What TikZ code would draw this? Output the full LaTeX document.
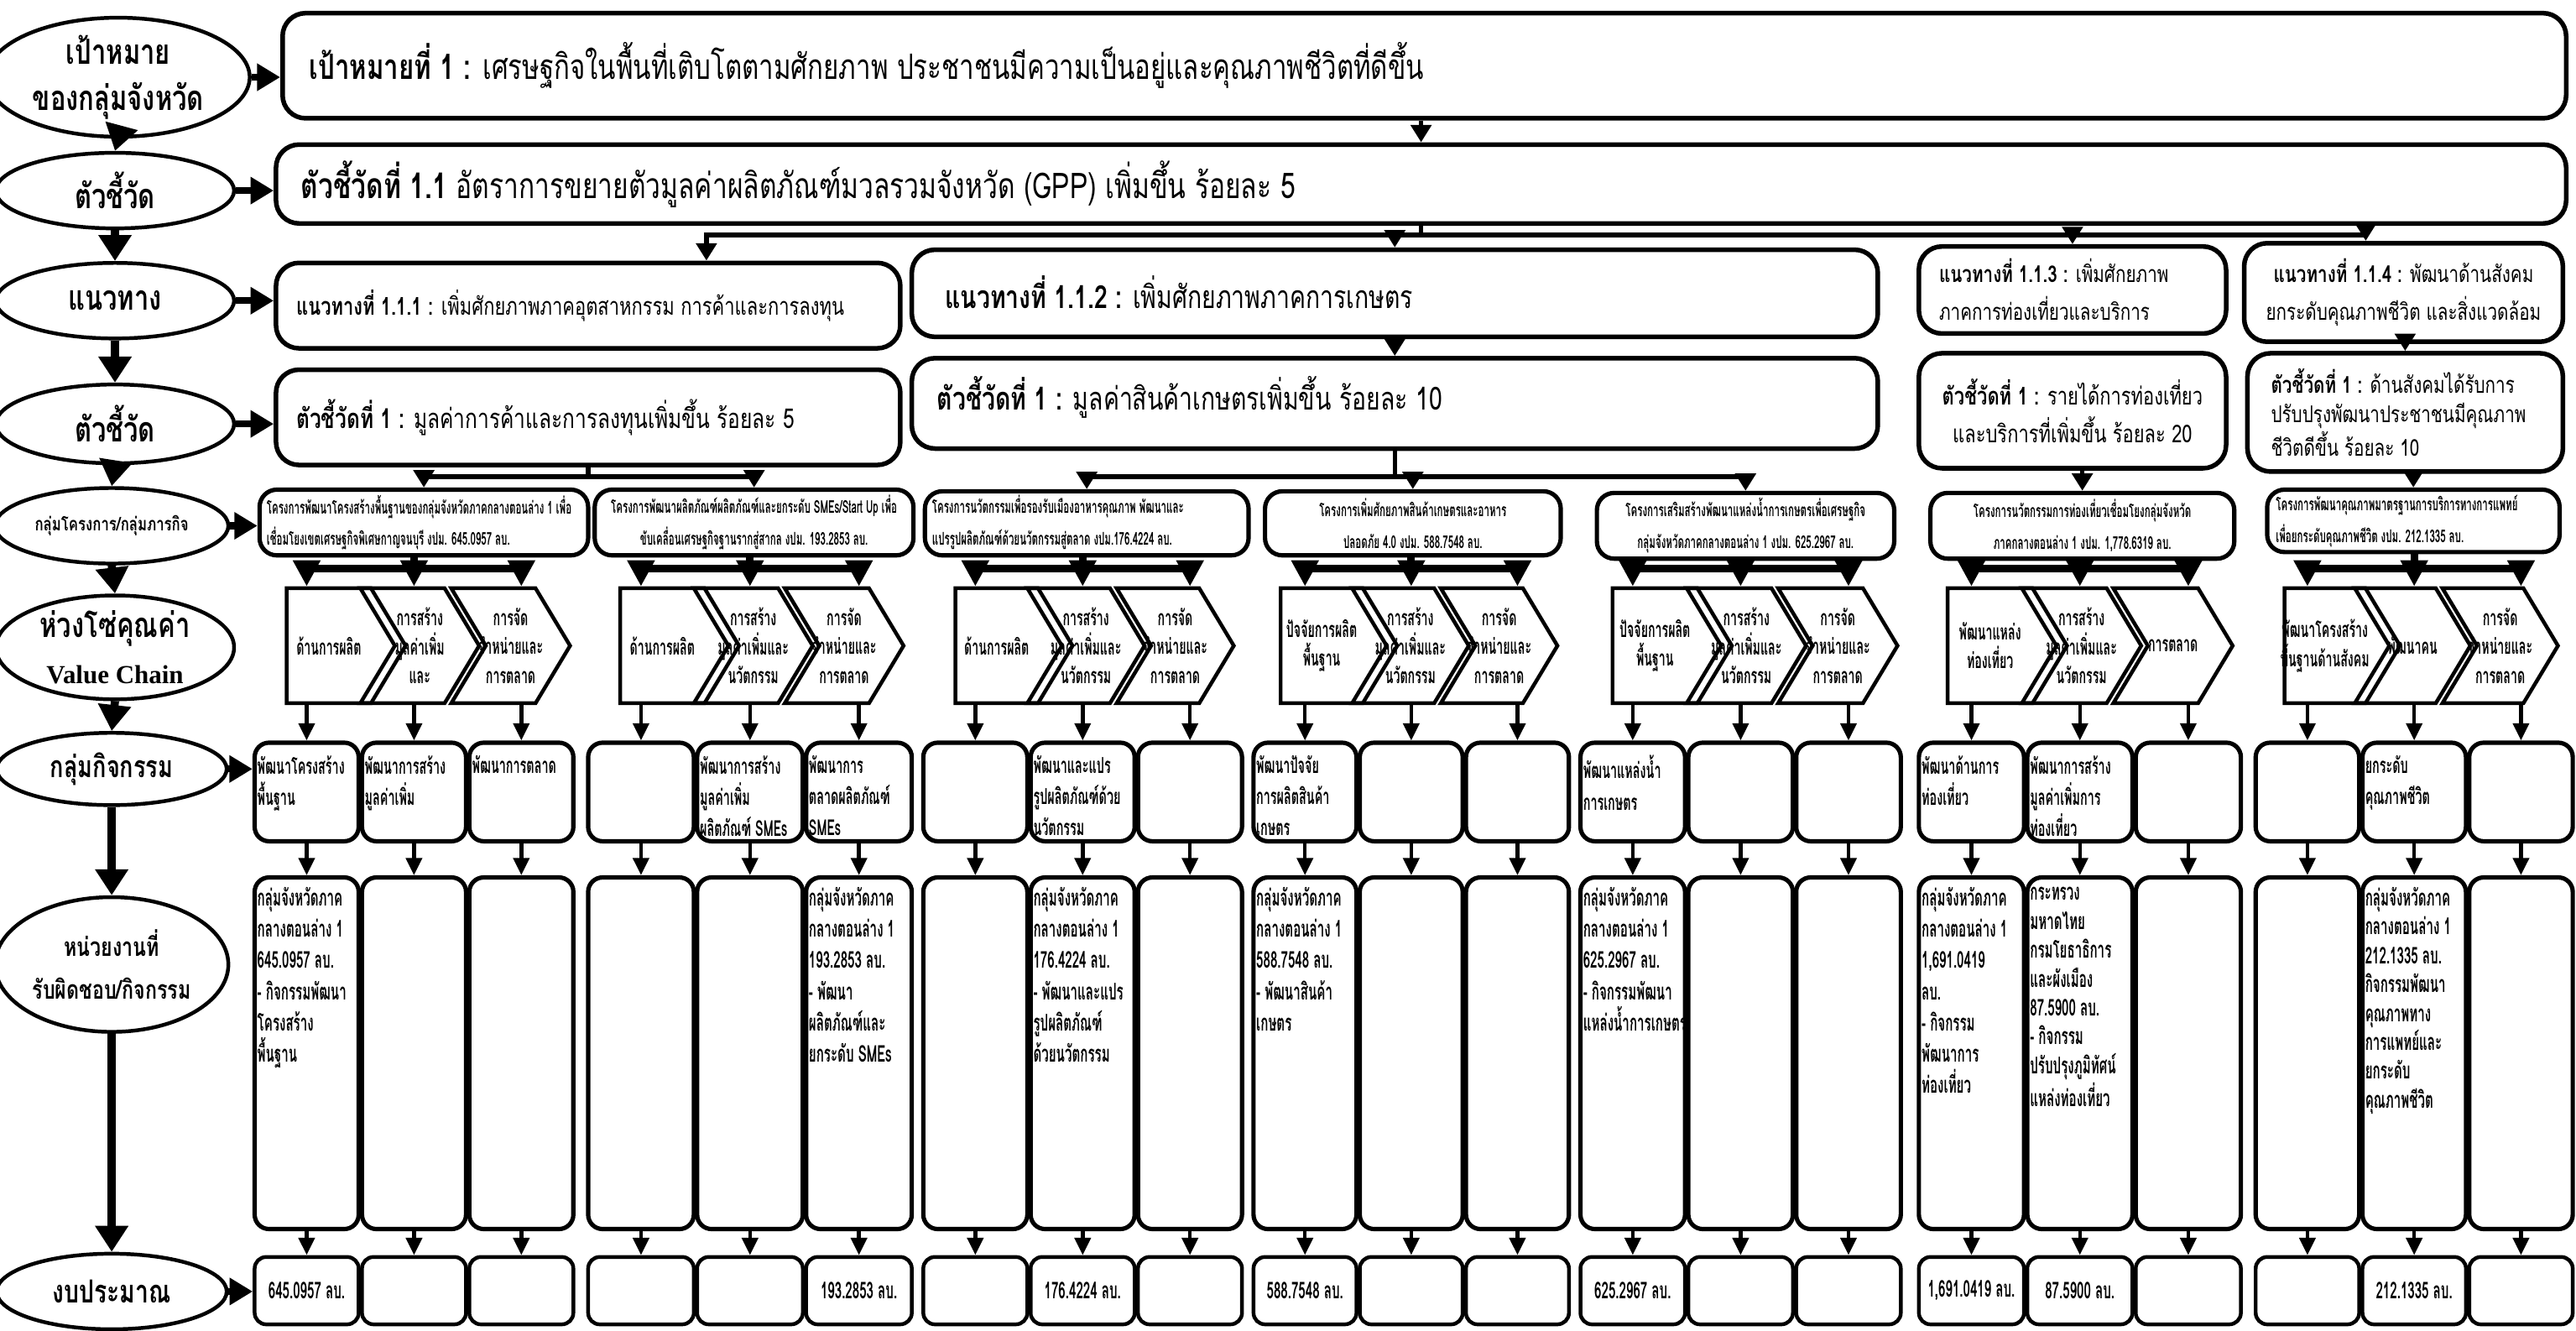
\documentclass[tikz,border=0pt]{standalone}
\usepackage{fontspec}
\setmainfont{Loma}[Script=Thai]
\newfontfamily\thc{Loma}[Script=Thai,FakeStretch=0.75]
\newfontfamily\thx{Loma}[Script=Thai,FakeStretch=0.55]
\newfontfamily\lserif{Liberation Serif}
\usetikzlibrary{shapes.geometric,shapes.symbols,arrows.meta}
\newcommand\fsz[2]{\fontsize{#1}{#2}\selectfont}
\newcommand\bx[6]{\node[#6, minimum width={(#4-#2)*0.02cm}, minimum height={(#5-#3)*0.02cm}] (#1) at ({(#2+#4)/2},{(#3+#5)/2}) {};}
\tikzset{
  bigbox/.style={draw, line width=1.6pt, rounded corners=8pt, inner sep=0pt},
  projbox/.style={draw, line width=1.5pt, rounded corners=6pt, inner sep=0pt},
  ell/.style={ellipse, draw, line width=1.3pt, inner sep=0pt, align=center, font=\thc\bfseries\fsz{12}{16}},
  harr/.style={line width=2.4pt, -{Triangle[width=9pt,length=8pt]}},
  varr/.style={line width=2.8pt, -{Triangle[width=11pt,length=9pt]}},
  midarr/.style={line width=1.6pt, -{Triangle[width=7pt,length=6pt]}},
  midline/.style={line width=1.6pt, line cap=rect},
  forkline/.style={line width=2.6pt, line cap=rect},
  forkarr/.style={line width=2.6pt, -{Triangle[width=9pt,length=9pt]}},
  thinarr/.style={line width=1.3pt, -{Triangle[width=5.5pt,length=6pt]}},
  chevf/.style={signal, draw, line width=1.3pt, signal to=east, signal pointer angle=118, inner sep=0pt},
  chevn/.style={chevf, signal from=west},
  actbox/.style={draw, line width=1.5pt, rounded corners=5pt, inner sep=0pt},
  budbox/.style={draw, line width=1.3pt, rounded corners=4pt, inner sep=0pt},
  ptxt/.style={font=\thx\bfseries\fsz{6.1}{11}, inner sep=0pt},
  ctxt/.style={font=\thx\bfseries\fsz{7.5}{10}, align=center, inner sep=0pt},
  atxt/.style={font=\thx\bfseries\fsz{7.6}{10.8}, align=left, anchor=north west, inner sep=0pt},
  utxt/.style={font=\thx\bfseries\fsz{8}{10.8}, align=left, anchor=north west, inner sep=0pt},
  btxt/.style={font=\thx\bfseries\fsz{8}{10}, inner sep=0pt},
}
\begin{document}
\begin{tikzpicture}[x=0.02cm,y=-0.02cm]
\fill[white] (0,0) rectangle (1568,810);
\useasboundingbox (0,0) rectangle (1568,810);

% ---------- left column ellipses ----------
\node[ell, minimum width=160*0.02cm, minimum height=68*0.02cm] (e1) at (72,47) {เป้าหมาย\\ของกลุ่มจังหวัด};
\node[ell, minimum width=145*0.02cm, minimum height=46*0.02cm] (e2) at (70,116) {ตัวชี้วัด};
\node[ell, minimum width=145*0.02cm, minimum height=46*0.02cm] (e3) at (70,183) {แนวทาง};
\node[ell, minimum width=145*0.02cm, minimum height=48*0.02cm] (e4) at (70,258) {ตัวชี้วัด};
\node[ell, minimum width=142*0.02cm, minimum height=46*0.02cm, font=\thc\bfseries\fsz{6.5}{8}] (e5) at (68,320) {กลุ่มโครงการ/กลุ่มภารกิจ};
\node[ell, minimum width=145*0.02cm, minimum height=60*0.02cm] (e6) at (70,394) {ห่วงโซ่คุณค่า\\{\lserif\bfseries\fsz{9}{12}Value Chain}};
\node[ell, minimum width=140*0.02cm, minimum height=44*0.02cm, font=\thc\bfseries\fsz{10.5}{14}] (e7) at (68,468) {กลุ่มกิจกรรม};
\node[ell, minimum width=142*0.02cm, minimum height=82*0.02cm, font=\thc\bfseries\fsz{9}{15}] (e8) at (68,587) {หน่วยงานที่\\รับผิดชอบ/กิจกรรม};
\node[ell, minimum width=140*0.02cm, minimum height=46*0.02cm, font=\thc\bfseries\fsz{11}{14}] (e9) at (68,786) {งบประมาณ};

\draw[varr] (e1.south) -- (e2.north);
\draw[varr] (e2.south) -- (e3.north);
\draw[varr] (e3.south) -- (e4.north);
\draw[varr] (e4.south) -- (e5.north);
\draw[varr] (e5.south) -- (e6.north);
\draw[varr] (e6.south) -- (e7.north);
\draw[varr] (e7.south) -- (e8.north);
\draw[varr] (e8.south) -- (e9.north);

% ---------- top boxes ----------
\bx{goal}{172}{8}{1562}{72}{bigbox}
\bx{ind11}{168}{88}{1562}{136}{bigbox}
\bx{n111}{168}{160}{548}{212}{bigbox}
\bx{n112}{555}{152}{1143}{205}{bigbox}
\bx{n113}{1168}{150}{1355}{203}{bigbox}
\bx{n114}{1366}{148}{1560}{208}{bigbox}
\bx{i1}{168}{225}{548}{283}{bigbox}
\bx{i2}{555}{218}{1143}{273}{bigbox}
\bx{i3}{1168}{215}{1355}{285}{bigbox}
\bx{i4}{1368}{215}{1560}{287}{bigbox}

\node[anchor=west, inner sep=0pt, font=\thc\fsz{12.1}{15}] (goal-t) at (188,40) {{\bfseries เป้าหมายที่ 1 :} เศรษฐกิจในพื้นที่เติบโตตามศักยภาพ ประชาชนมีความเป็นอยู่และคุณภาพชีวิตที่ดีขึ้น};
\node[anchor=west, inner sep=0pt, font=\thc\fsz{12.3}{15}] (ind11-t) at (183,112) {{\bfseries ตัวชี้วัดที่ 1.1} อัตราการขยายตัวมูลค่าผลิตภัณฑ์มวลรวมจังหวัด (GPP) เพิ่มขึ้น ร้อยละ 5};
\node[anchor=west, inner sep=0pt, font=\thc\fsz{8.5}{12}] (n111-t) at (180,186) {{\bfseries แนวทางที่ 1.1.1 :} เพิ่มศักยภาพภาคอุตสาหกรรม การค้าและการลงทุน};
\node[anchor=west, inner sep=0pt, font=\thc\fsz{11}{13}] (n112-t) at (575,178) {{\bfseries แนวทางที่ 1.1.2 :} เพิ่มศักยภาพภาคการเกษตร};
\node[anchor=west, inner sep=0pt, align=left, font=\thc\fsz{8}{13}] (n113-t) at (1180,176) {{\bfseries แนวทางที่ 1.1.3 :} เพิ่มศักยภาพ\\ภาคการท่องเที่ยวและบริการ};
\node[inner sep=0pt, align=center, font=\thc\fsz{8}{13}] (n114-t) at (n114) {{\bfseries แนวทางที่ 1.1.4 :} พัฒนาด้านสังคม\\ยกระดับคุณภาพชีวิต และสิ่งแวดล้อม};
\node[anchor=west, inner sep=0pt, font=\thc\fsz{9.5}{12}] (i1-t) at (180,254) {{\bfseries ตัวชี้วัดที่ 1 :} มูลค่าการค้าและการลงทุนเพิ่มขึ้น ร้อยละ 5};
\node[anchor=west, inner sep=0pt, font=\thc\fsz{11}{13}] (i2-t) at (570,242) {{\bfseries ตัวชี้วัดที่ 1 :} มูลค่าสินค้าเกษตรเพิ่มขึ้น ร้อยละ 10};
\node[inner sep=0pt, align=center, font=\thc\fsz{8.5}{13}] (i3-t) at (i3) {{\bfseries ตัวชี้วัดที่ 1 :} รายได้การท่องเที่ยว\\และบริการที่เพิ่มขึ้น ร้อยละ 20};
\node[anchor=west, inner sep=0pt, align=left, font=\thc\fsz{8}{10}] (i4-t) at (1382,251) {{\bfseries ตัวชี้วัดที่ 1 :} ด้านสังคมได้รับการ\\ปรับปรุงพัฒนาประชาชนมีคุณภาพ\\ชีวิตดีขึ้น ร้อยละ 10};

% horizontal arrows from ellipses
\draw[harr] (e1.east) -- (e1.east -| goal.west);
\draw[harr] (e2.east) -- (e2.east -| ind11.west);
\draw[harr] (e3.east) -- (e3.east -| n111.west);
\draw[harr] (e4.east) -- (e4.east -| i1.west);

% goal -> indicator 1.1
\draw[midarr] (ind11.north |- goal.south) -- (ind11.north);
\coordinate (ny) at (0,143);
\coordinate (k1) at (430,143);
\coordinate (k4) at (1440,143);
\draw[midline] (ind11.south) -- (ind11.south |- ny);
\draw[midline] (k1) -- (k4);
\draw[midarr] (k1) -- (k1 |- n111.north);
\draw[midarr] (n112.north |- ny) -- (n112.north);
\draw[midarr] (n113.north |- ny) -- (n113.north);
\draw[midarr] (k4) -- (k4 |- n114.north);
\draw[midarr] (n112.south) -- (i2.north);
\draw[midarr] (i4.north |- n114.south) -- (i4.north);

% ---------- project boxes ----------
\bx{p1}{158}{298}{358}{338}{projbox}
\bx{p2}{362}{298}{556}{338}{projbox}
\bx{p3}{563}{299}{760}{338}{projbox}
\bx{p4}{770}{299}{950}{338}{projbox}
\bx{p5}{972}{300}{1153}{340}{projbox}
\bx{p6}{1175}{300}{1360}{340}{projbox}
\bx{p7}{1380}{298}{1558}{336}{projbox}

\node[ptxt, anchor=west, align=left] (p1-t) at (162,318) {โครงการพัฒนาโครงสร้างพื้นฐานของกลุ่มจังหวัดภาคกลางตอนล่าง 1 เพื่อ\\เชื่อมโยงเขตเศรษฐกิจพิเศษกาญจนบุรี งปม. 645.0957 ลบ.};
\node[ptxt, align=center] (p2-t) at (p2) {โครงการพัฒนาผลิตภัณฑ์ผลิตภัณฑ์และยกระดับ SMEs/Start Up เพื่อ\\ขับเคลื่อนเศรษฐกิจฐานรากสู่สากล งปม. 193.2853 ลบ.};
\node[ptxt, anchor=west, align=left] (p3-t) at (567,318) {โครงการนวัตกรรมเพื่อรองรับเมืองอาหารคุณภาพ พัฒนาและ\\แปรรูปผลิตภัณฑ์ด้วยนวัตกรรมสู่ตลาด งปม.176.4224 ลบ.};
\node[ptxt, align=center] (p4-t) at (p4) {โครงการเพิ่มศักยภาพสินค้าเกษตรและอาหาร\\ปลอดภัย 4.0 งปม. 588.7548 ลบ.};
\node[ptxt, align=center] (p5-t) at (p5) {โครงการเสริมสร้างพัฒนาแหล่งน้ำการเกษตรเพื่อเศรษฐกิจ\\กลุ่มจังหวัดภาคกลางตอนล่าง 1 งปม. 625.2967 ลบ.};
\node[ptxt, align=center] (p6-t) at (p6) {โครงการนวัตกรรมการท่องเที่ยวเชื่อมโยงกลุ่มจังหวัด\\ภาคกลางตอนล่าง 1 งปม. 1,778.6319 ลบ.};
\node[ptxt, anchor=west, align=left] (p7-t) at (1385,317) {โครงการพัฒนาคุณภาพมาตรฐานการบริการทางการแพทย์\\เพื่อยกระดับคุณภาพชีวิต งปม. 212.1335 ลบ.};

\draw[harr] (e5.east) -- (e5.east -| p1.west);

% indicators -> projects
\coordinate (iy) at (0,290);
\draw[midline] (i1.south) -- (i1.south |- iy);
\draw[midline] (p1.north |- iy) -- (p2.north |- iy);
\draw[midarr] (p1.north |- iy) -- (p1.north);
\draw[midarr] (p2.north |- iy) -- (p2.north);
\draw[midline] (i2.south) -- (i2.south |- iy);
\draw[midline] (p3.north |- iy) -- (p5.north |- iy);
\draw[midarr] (p3.north |- iy) -- (p3.north);
\draw[midarr] (p4.north |- iy) -- (p4.north);
\draw[midarr] (p5.north |- iy) -- (p5.north);
\draw[midarr] (p6.north |- i3.south) -- (p6.north);
\draw[midarr] (p7.north |- i4.south) -- (p7.north);

% ---------- columns: activities, units, budgets ----------
\foreach \g/\L/\R in {1/155/349,2/358/555,3/562/756,4/763/955,5/962/1157,6/1168/1364,7/1373/1566}{
  \pgfmathsetmacro\w{(\R-\L-4)/3}
  \foreach \c in {1,2,3}{
    \pgfmathsetmacro\cx{\L+(\c-1)*(\w+2)+\w/2}
    \node[actbox, minimum width=\w*0.02cm, minimum height=60*0.02cm] (a\g\c) at (\cx,482) {};
    \node[actbox, minimum width=\w*0.02cm, minimum height=214*0.02cm] (u\g\c) at (\cx,641) {};
    \node[budbox, minimum width=\w*0.02cm, minimum height=41*0.02cm] (b\g\c) at (\cx,785.5) {};
    \draw[thinarr] (a\g\c.south) -- (u\g\c.north);
    \draw[thinarr] (u\g\c.south) -- (b\g\c.north);
  }
}

% ---------- chevrons ----------
\foreach \g/\L/\R in {1/164/347,2/367/550,3/571/751,4/769/948,5/971/1155,6/1175/1359,7/1380/1557}{
  \pgfmathsetmacro\w{(\R-\L+34)/3}
  \pgfmathsetmacro\xa{\L+\w/2}
  \pgfmathsetmacro\xb{\L+\w-17+\w/2}
  \pgfmathsetmacro\xc{\L+2*(\w-17)+\w/2}
  \node[chevf, minimum width=\w*0.02cm, minimum height=70*0.02cm] (c\g1) at (\xa,393) {};
  \node[chevn, minimum width=\w*0.02cm, minimum height=70*0.02cm] (c\g2) at (\xb,393) {};
  \node[chevn, minimum width=\w*0.02cm, minimum height=70*0.02cm] (c\g3) at (\xc,393) {};
}
\coordinate (fy) at (0,346);
\foreach \g in {1,...,7}{
  \draw[forkline] (a\g2.north |- p\g.south) -- (a\g2.north |- fy);
  \draw[forkline] (a\g1.north |- fy) -- (a\g3.north |- fy);
  \foreach \c in {1,2,3}{
    \draw[forkarr] (a\g\c.north |- fy) -- (a\g\c.north |- c\g\c.north);
    \draw[thinarr] (a\g\c.north |- c\g\c.south) -- (a\g\c.north);
  }
}

\node[ctxt] (ct11) at (c11) {ด้านการผลิต};
\node[ctxt] (ct12) at (c12) {การสร้าง\\มูลค่าเพิ่ม\\และ};
\node[ctxt] (ct13) at (c13) {การจัด\\จำหน่ายและ\\การตลาด};
\node[ctxt] (ct21) at (c21) {ด้านการผลิต};
\node[ctxt] (ct22) at (c22) {การสร้าง\\มูลค่าเพิ่มและ\\นวัตกรรม};
\node[ctxt] (ct23) at (c23) {การจัด\\จำหน่ายและ\\การตลาด};
\node[ctxt] (ct31) at (c31) {ด้านการผลิต};
\node[ctxt] (ct32) at (c32) {การสร้าง\\มูลค่าเพิ่มและ\\นวัตกรรม};
\node[ctxt] (ct33) at (c33) {การจัด\\จำหน่ายและ\\การตลาด};
\node[ctxt] (ct41) at (c41) {ปัจจัยการผลิต\\พื้นฐาน};
\node[ctxt] (ct42) at (c42) {การสร้าง\\มูลค่าเพิ่มและ\\นวัตกรรม};
\node[ctxt] (ct43) at (c43) {การจัด\\จำหน่ายและ\\การตลาด};
\node[ctxt] (ct51) at (c51) {ปัจจัยการผลิต\\พื้นฐาน};
\node[ctxt] (ct52) at (c52) {การสร้าง\\มูลค่าเพิ่มและ\\นวัตกรรม};
\node[ctxt] (ct53) at (c53) {การจัด\\จำหน่ายและ\\การตลาด};
\node[ctxt] (ct61) at (c61) {พัฒนาแหล่ง\\ท่องเที่ยว};
\node[ctxt] (ct62) at (c62) {การสร้าง\\มูลค่าเพิ่มและ\\นวัตกรรม};
\node[ctxt] (ct63) at (c63) {การตลาด};
\node[ctxt] (ct71) at (c71) {พัฒนาโครงสร้าง\\พื้นฐานด้านสังคม};
\node[ctxt] (ct72) at (c72) {พัฒนาคน};
\node[ctxt] (ct73) at (c73) {การจัด\\จำหน่ายและ\\การตลาด};

\draw[harr] (e7.east) -- (e7.east -| a11.west);
\draw[harr] (e9.east) -- (e9.east -| b11.west);

% activity texts
\node[atxt] (ta11) at ([xshift=1.5pt,yshift=-5pt]a11.north west) {พัฒนาโครงสร้าง\\พื้นฐาน};
\node[atxt] (ta12) at ([xshift=1.5pt,yshift=-5pt]a12.north west) {พัฒนาการสร้าง\\มูลค่าเพิ่ม};
\node[atxt] (ta13) at ([xshift=1.5pt,yshift=-5pt]a13.north west) {พัฒนาการตลาด};
\node[atxt] (ta22) at ([xshift=1.5pt,yshift=-5pt]a22.north west) {พัฒนาการสร้าง\\มูลค่าเพิ่ม\\ผลิตภัณฑ์ SMEs};
\node[atxt] (ta23) at ([xshift=1.5pt,yshift=-5pt]a23.north west) {พัฒนาการ\\ตลาดผลิตภัณฑ์\\SMEs};
\node[atxt] (ta32) at ([xshift=1.5pt,yshift=-5pt]a32.north west) {พัฒนาและแปร\\รูปผลิตภัณฑ์ด้วย\\นวัตกรรม};
\node[atxt] (ta41) at ([xshift=1.5pt,yshift=-5pt]a41.north west) {พัฒนาปัจจัย\\การผลิตสินค้า\\เกษตร};
\node[atxt] (ta51) at ([xshift=1.5pt,yshift=-5pt]a51.north west) {พัฒนาแหล่งน้ำ\\การเกษตร};
\node[atxt] (ta61) at ([xshift=1.5pt,yshift=-5pt]a61.north west) {พัฒนาด้านการ\\ท่องเที่ยว};
\node[atxt] (ta62) at ([xshift=1.5pt,yshift=-5pt]a62.north west) {พัฒนาการสร้าง\\มูลค่าเพิ่มการ\\ท่องเที่ยว};
\node[atxt] (ta72) at ([xshift=1.5pt,yshift=-5pt]a72.north west) {ยกระดับ\\คุณภาพชีวิต};

% unit texts
\node[utxt] (tu11) at ([xshift=1.5pt,yshift=-4pt]u11.north west) {กลุ่มจังหวัดภาค\\กลางตอนล่าง 1\\645.0957 ลบ.\\- กิจกรรมพัฒนา\\โครงสร้าง\\พื้นฐาน};
\node[utxt] (tu23) at ([xshift=1.5pt,yshift=-4pt]u23.north west) {กลุ่มจังหวัดภาค\\กลางตอนล่าง 1\\193.2853 ลบ.\\- พัฒนา\\ผลิตภัณฑ์และ\\ยกระดับ SMEs};
\node[utxt] (tu32) at ([xshift=1.5pt,yshift=-4pt]u32.north west) {กลุ่มจังหวัดภาค\\กลางตอนล่าง 1\\176.4224 ลบ.\\- พัฒนาและแปร\\รูปผลิตภัณฑ์\\ด้วยนวัตกรรม};
\node[utxt] (tu41) at ([xshift=1.5pt,yshift=-4pt]u41.north west) {กลุ่มจังหวัดภาค\\กลางตอนล่าง 1\\588.7548 ลบ.\\- พัฒนาสินค้า\\เกษตร};
\node[utxt] (tu51) at ([xshift=1.5pt,yshift=-4pt]u51.north west) {กลุ่มจังหวัดภาค\\กลางตอนล่าง 1\\625.2967 ลบ.\\- กิจกรรมพัฒนา\\แหล่งน้ำการเกษตร};
\node[utxt] (tu61) at ([xshift=1.5pt,yshift=-4pt]u61.north west) {กลุ่มจังหวัดภาค\\กลางตอนล่าง 1\\1,691.0419\\ลบ.\\- กิจกรรม\\พัฒนาการ\\ท่องเที่ยว};
\node[utxt, font=\thx\bfseries\fsz{8}{10}] (tu62) at ([xshift=1.5pt,yshift=-4pt]u62.north west) {กระทรวง\\มหาดไทย\\กรมโยธาธิการ\\และผังเมือง\\87.5900 ลบ.\\- กิจกรรม\\ปรับปรุงภูมิทัศน์\\แหล่งท่องเที่ยว};
\node[utxt, font=\thx\bfseries\fsz{8}{10}] (tu72) at ([xshift=1.5pt,yshift=-4pt]u72.north west) {กลุ่มจังหวัดภาค\\กลางตอนล่าง 1\\212.1335 ลบ.\\กิจกรรมพัฒนา\\คุณภาพทาง\\การแพทย์และ\\ยกระดับ\\คุณภาพชีวิต};

% budget texts
\node[btxt] (tb11) at (b11) {645.0957 ลบ.};
\node[btxt] (tb23) at (b23) {193.2853 ลบ.};
\node[btxt] (tb32) at (b32) {176.4224 ลบ.};
\node[btxt] (tb41) at (b41) {588.7548 ลบ.};
\node[btxt] (tb51) at (b51) {625.2967 ลบ.};
\node[btxt] (tb61) at (b61) {1,691.0419 ลบ.};
\node[btxt] (tb62) at (b62) {87.5900 ลบ.};
\node[btxt] (tb72) at (b72) {212.1335 ลบ.};
\end{tikzpicture}
\end{document}
